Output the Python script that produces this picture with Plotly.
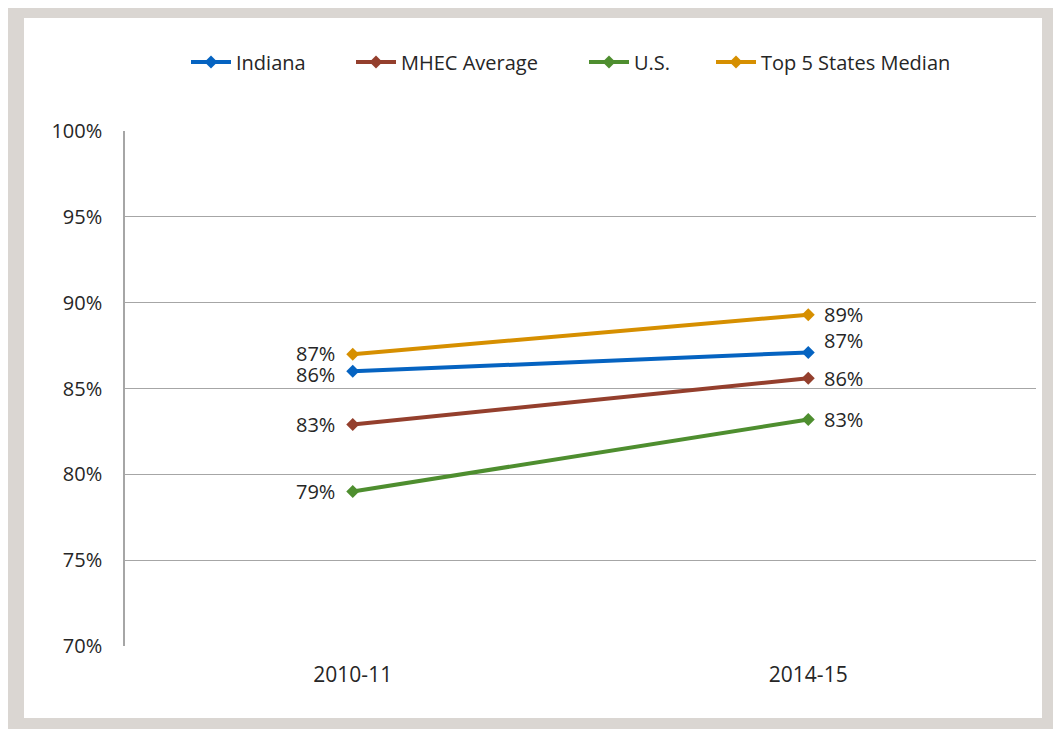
import plotly.graph_objects as go

categories = ["2010-11", "2014-15"]
indiana = [86.0, 87.1]
mhec = [82.9, 85.6]
us = [79.0, 83.2]
top5 = [87.0, 89.3]
y_ticks = [70, 75, 80, 85, 90, 95, 100]
y_tick_labels = [f"{v}%" for v in y_ticks]

series = [
    ("Indiana", indiana, "#0563C1", [-3, 12]),
    ("MHEC Average", mhec, "#943F2D", [0, 0]),
    ("U.S.", us, "#4E8E2F", [0, 0]),
    ("Top 5 States Median", top5, "#D68F00", [1, 0]),
]
# legend symbol starting positions (screen px) for the four legend entries
legend_left_px = [180, 345, 578, 705]

FONT = "Open Sans"
TXT = "#262626"
W, H = 1053, 721
L, T, PW, PH = 117, 123, 911, 515

fig = go.Figure()
annotations = []
legends = {}
for k, (name, vals, color, yshifts) in enumerate(series):
    lname = "legend" if k == 0 else f"legend{k + 1}"
    fig.add_trace(go.Scatter(
        x=categories, y=vals, name=name, mode="lines+markers",
        line=dict(color=color, width=4),
        marker=dict(symbol="diamond", size=10, color=color),
        legend=lname, cliponaxis=False,
    ))
    legends[lname] = dict(
        orientation="h", x=(legend_left_px[k] - 8 - L + 6) / PW, xanchor="left",
        y=(T + PH - 54) / PH, yanchor="middle", itemwidth=40,
        font=dict(family=FONT, size=20, color=TXT), bgcolor="rgba(0,0,0,0)",
    )
    for i, v in enumerate(vals):
        annotations.append(dict(
            x=categories[i], y=v, xref="x", yref="y", text="%d%%" % round(v),
            showarrow=False, xanchor="right" if i == 0 else "left", yanchor="middle",
            xshift=-16 if i == 0 else 14, yshift=yshifts[i],
            font=dict(family=FONT, size=20, color=TXT),
        ))

fig.update_layout(
    width=W, height=H,
    margin=dict(l=L, r=W - L - PW, t=T, b=H - T - PH),
    paper_bgcolor="white",
    plot_bgcolor="rgba(0,0,0,0)",
    font=dict(family=FONT, size=20, color=TXT),
    showlegend=True,
    annotations=annotations,
    xaxis=dict(type="category", range=[-0.5, 1.5], showgrid=False, zeroline=False,
               showline=False, ticks="", ticklabelstandoff=14,
               tickfont=dict(family=FONT, size=21, color=TXT)),
    yaxis=dict(range=[70, 100], tickvals=y_ticks, ticktext=y_tick_labels,
               showgrid=True, gridcolor="#a6a6a6", gridwidth=1.3, zeroline=False,
               showline=True, linecolor="#a6a6a6", linewidth=1.5, ticks="",
               ticklabelstandoff=17, tickfont=dict(family=FONT, size=20, color=TXT)),
    shapes=[
        dict(type="rect", xref="paper", yref="paper", layer="below",
             x0=(0 - L) / PW, x1=(1049 - L) / PW,
             y0=(T + PH - 730) / PH, y1=(T + PH + 5) / PH,
             fillcolor="#DAD6D2", line=dict(width=0)),
        dict(type="rect", xref="paper", yref="paper", layer="below",
             x0=(16 - L) / PW, x1=(1034 - L) / PW,
             y0=(T + PH - 710) / PH, y1=(T + PH - 10) / PH,
             fillcolor="white", line=dict(width=0)),
    ],
    **legends,
)

fig.write_html("out.html")
